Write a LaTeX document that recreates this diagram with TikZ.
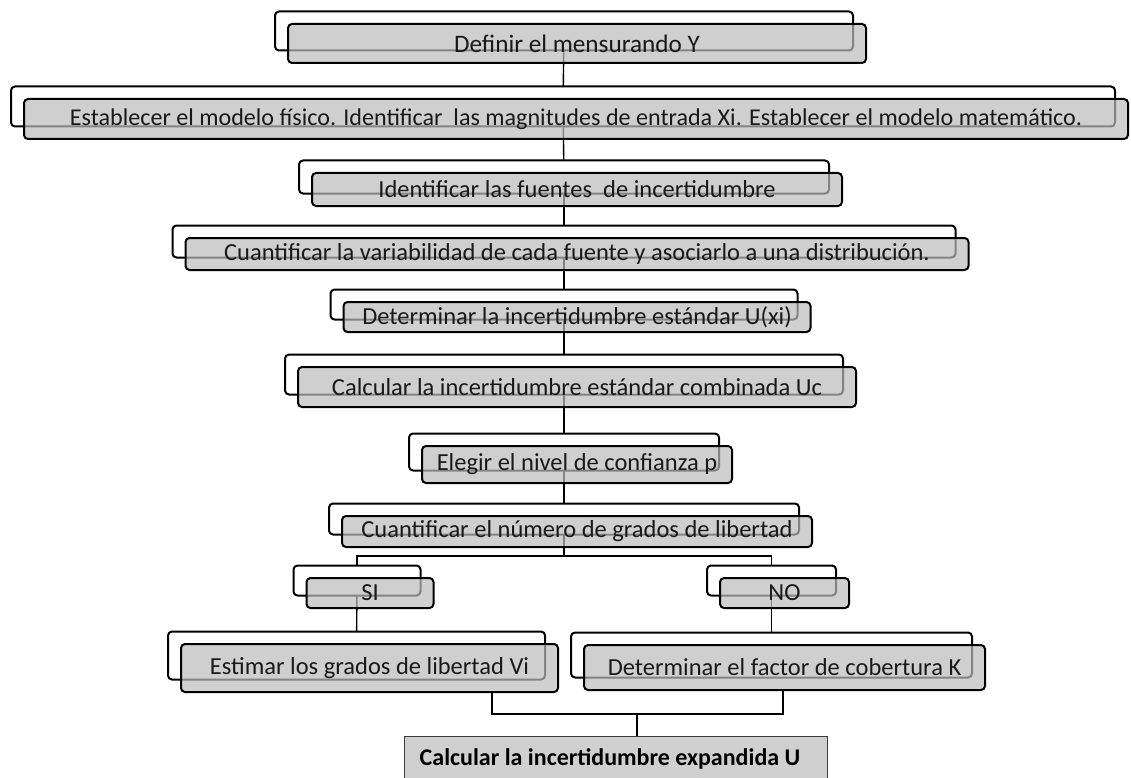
\documentclass[tikz,border=0pt]{standalone}
\usepackage{fontspec}
\setmainfont{Carlito}
\usetikzlibrary{backgrounds}
\definecolor{boxgray}{RGB}{188,188,188}
\definecolor{finalgray}{RGB}{208,208,208}
\definecolor{edgegray}{RGB}{60,60,60}
\tikzset{
  backbox/.style={draw=black, line width=2pt, rounded corners=4pt, fill=white, inner sep=0pt},
  frontbox/.style={draw=black, line width=2pt, rounded corners=4pt, fill=boxgray, fill opacity=0.7, text opacity=1, inner sep=0pt, text=black!90, font=\fontsize{24.5}{24.5}\selectfont},
  finalbox/.style={draw=edgegray, line width=1pt, fill=finalgray, inner sep=0pt},
  link/.style={draw=black, line width=1.4pt},
}
\newcommand{\stackbox}[6]{%
  \node[backbox, minimum width=#4pt, minimum height=#5pt] (#1b) at (#2-13,#3-12.5) {};
  \node[frontbox, minimum width=#4pt, minimum height=#5pt] (#1) at (#2,#3) {#6};
}
\begin{document}
\begin{tikzpicture}[x=1pt,y=-1pt]
\useasboundingbox (0,0) rectangle (1131,778);
\stackbox{b1}{577}{43.5}{578}{39}{\fontsize{25.2}{25.2}\selectfont Definir el mensurando Y}
\stackbox{b2}{576}{119}{1104}{40}{\fontsize{24.1}{24.1}\selectfont Establecer el modelo físico. Identificar\ \ las magnitudes de entrada Xi. Establecer el modelo matemático.}
\stackbox{b3}{577}{189.5}{530}{33}{Identificar las fuentes\ \ de incertidumbre}
\stackbox{b4}{577}{254}{783}{32}{Cuantificar la variabilidad de cada fuente y asociarlo a una distribución.}
\stackbox{b5}{577}{317}{467}{30}{Determinar la incertidumbre estándar U(xi)}
\stackbox{b6}{577}{387}{558}{40}{Calcular la incertidumbre estándar combinada Uc}
\stackbox{b7}{577}{464.5}{310}{37}{Elegir el nivel de confianza p}
\stackbox{b8}{577}{531.5}{470}{31}{Cuantificar el número de grados de libertad}
\stackbox{si}{370}{593}{127}{30}{SI}
\stackbox{no}{784.5}{593}{129}{30}{NO}
\stackbox{est}{369.5}{668}{377}{48}{Estimar los grados de libertad Vi}
\stackbox{det}{784.5}{667.5}{401}{45}{Determinar el factor de cobertura K}
\node[finalbox, minimum width=423pt, minimum height=64pt] (fin) at (615.5,768) {};
\node[font=\fontsize{24}{24}\selectfont\bfseries, inner sep=0pt] (fintext) at (610,759) {Calcular la incertidumbre expandida U};
\coordinate (split) at (564,556);
\coordinate (ej) at (492,714);
\coordinate (dj) at (783,714);
\coordinate (mj) at (637,714);
\begin{scope}[on background layer]
\draw[link] (b1b.center) -- (b2b.center);
\draw[link] (b2b.center) -- (b3b.center);
\draw[link] (b3b.center) -- (b4b.center);
\draw[link] (b4b.center) -- (b5b.center);
\draw[link] (b5b.center) -- (b6b.center);
\draw[link] (b6b.center) -- (b7b.center);
\draw[link] (b7b.center) -- (b8b.center);
\draw[link] (b8b.center) -- (split);
\draw[link] (sib.center) |- (split) -| (nob.center);
\draw[link] (sib.center) -- (estb.center);
\draw[link] (nob.center) -- (detb.center);
\draw[link] (ej |- est.south) -- (ej) -- (dj) -- (dj |- det.south);
\draw[link] (mj) -- (mj |- fin.north);
\end{scope}
\end{tikzpicture}
\end{document}
